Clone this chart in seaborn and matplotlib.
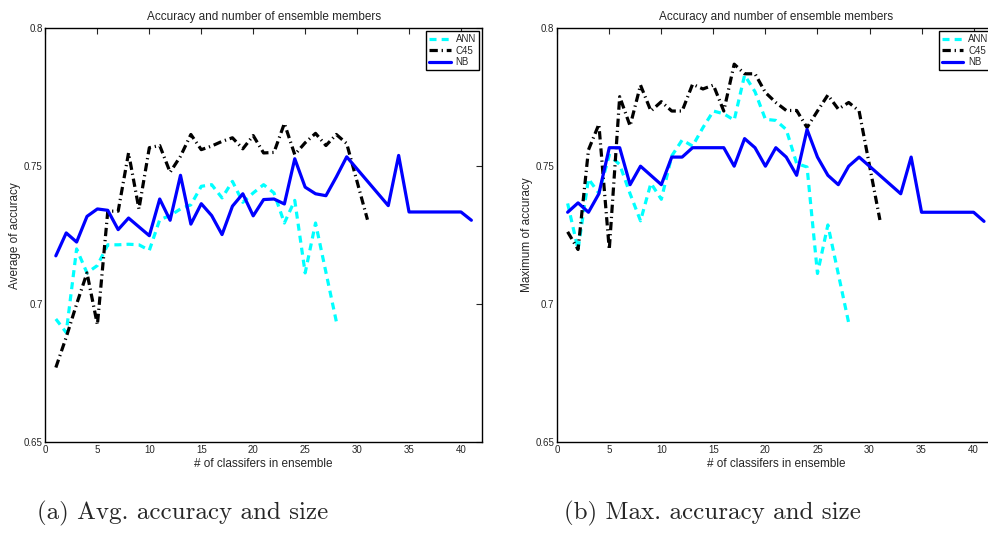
import matplotlib
matplotlib.use('Agg')
import matplotlib.pyplot as plt
import seaborn as sns

# ---- data ----
X_TICKS = [0, 5, 10, 15, 20, 25, 30, 35, 40]
Y_TICKS = [0.65, 0.7, 0.75, 0.8]
Y_TICK_LABELS = ['0.65', '0.7', '0.75', '0.8']

# (a) average accuracy
ann_avg_x = list(range(1, 27)) + [28]
ann_avg_y = [0.6946, 0.6897, 0.7200, 0.7113, 0.7140, 0.7215, 0.7215, 0.7217, 0.7215, 0.7195,
             0.7306, 0.7321, 0.7345, 0.7360, 0.7427, 0.7433, 0.7385, 0.7445, 0.7369, 0.7403,
             0.7433, 0.7403, 0.7294, 0.7376, 0.7113, 0.7294, 0.6937]
c45_avg_x = list(range(1, 30)) + [31]
c45_avg_y = [0.6770, 0.6880, 0.7000, 0.7113, 0.6925, 0.7337, 0.7337, 0.7548, 0.7345, 0.7567,
             0.7575, 0.7478, 0.7536, 0.7615, 0.7560, 0.7573, 0.7590, 0.7603, 0.7563, 0.7611,
             0.7548, 0.7550, 0.7655, 0.7542, 0.7585, 0.7619, 0.7575, 0.7615, 0.7582, 0.7306]
nb_avg_x = [1, 2, 3, 4, 5, 6, 7, 8] + list(range(10, 30)) + [33, 34, 35, 40, 41]
nb_avg_y = [0.7175, 0.7258, 0.7225, 0.7318, 0.7345, 0.7340, 0.7270, 0.7312,
            0.7248, 0.7381, 0.7304, 0.7467, 0.7290, 0.7364, 0.7321, 0.7252, 0.7355, 0.7400,
            0.7320, 0.7379, 0.7381, 0.7363, 0.7527, 0.7424, 0.7400, 0.7393, 0.7461, 0.7534,
            0.7357, 0.7539, 0.7334, 0.7334, 0.7304]

# (b) maximum accuracy
ann_max_x = list(range(1, 27)) + [28]
ann_max_y = [0.7365, 0.7198, 0.7454, 0.7402, 0.7540, 0.7506, 0.7400, 0.7302, 0.7438, 0.7380,
             0.7537, 0.7595, 0.7573, 0.7640, 0.7700, 0.7690, 0.7667, 0.7830, 0.7770, 0.7670,
             0.7666, 0.7633, 0.7510, 0.7497, 0.7111, 0.7287, 0.6932]
c45_max_x = list(range(1, 30)) + [31]
c45_max_y = [0.7262, 0.7198, 0.7559, 0.7652, 0.7198, 0.7752, 0.7646, 0.7794, 0.7700, 0.7734,
             0.7700, 0.7700, 0.7797, 0.7780, 0.7794, 0.7700, 0.7870, 0.7835, 0.7835, 0.7767,
             0.7731, 0.7702, 0.7702, 0.7640, 0.7700, 0.7758, 0.7707, 0.7731, 0.7700, 0.7305]
nb_max_x = [1, 2, 3, 4, 5, 6, 7, 8] + list(range(10, 30)) + [33, 34, 35, 40, 41]
nb_max_y = [0.7333, 0.7367, 0.7333, 0.7400, 0.7567, 0.7567, 0.7433, 0.7500,
            0.7433, 0.7533, 0.7533, 0.7567, 0.7567, 0.7567, 0.7567, 0.7500, 0.7600, 0.7567,
            0.7500, 0.7567, 0.7533, 0.7467, 0.7633, 0.7533, 0.7467, 0.7433, 0.7500, 0.7533,
            0.7400, 0.7533, 0.7333, 0.7333, 0.7300]

TITLE = 'Accuracy and number of ensemble members'
XLABEL = '# of classifers in ensemble'

sns.set_style('white')
plt.rcParams['font.family'] = ['Liberation Sans Narrow', 'Liberation Sans', 'DejaVu Sans']


def draw_panel(ax, ann, c45, nb, ylabel):
    sns.lineplot(x=ann[0], y=ann[1], ax=ax, color='cyan', linewidth=2.3,
                 linestyle=(0, (2.2, 1.6)), label='ANN')
    sns.lineplot(x=c45[0], y=c45[1], ax=ax, color='black', linewidth=2.3,
                 linestyle=(0, (2.6, 1.2, 0.4, 1.2)), label='C45')
    sns.lineplot(x=nb[0], y=nb[1], ax=ax, color='blue', linewidth=2.3,
                 linestyle='-', label='NB')

    ax.set_xlim(0, 42)
    ax.set_ylim(0.65, 0.8)
    ax.set_xticks(X_TICKS)
    ax.set_yticks(Y_TICKS)
    ax.set_yticklabels(Y_TICK_LABELS)
    ax.tick_params(direction='in', length=4, width=0.8, labelsize=7,
                   top=True, right=True, pad=2)
    for s in ax.spines.values():
        s.set_color('black')
        s.set_linewidth(1.0)
        s.set_visible(True)
    ax.set_title(TITLE, fontsize=8.5, pad=6)
    ax.set_xlabel(XLABEL, fontsize=8.5, labelpad=2)
    ax.set_ylabel(ylabel, fontsize=8.5, labelpad=2)
    leg = ax.legend(loc='upper right', fontsize=7, frameon=True, fancybox=False,
                    framealpha=1, edgecolor='black', handlelength=2.2,
                    borderpad=0.3, labelspacing=0.15, handletextpad=0.5,
                    borderaxespad=0.3)
    leg.get_frame().set_linewidth(1.0)


fig = plt.figure(figsize=(9.88, 5.44), dpi=100)
ax1 = fig.add_axes([0.046, 0.1875, 0.4416, 0.7605])
ax2 = fig.add_axes([0.564, 0.1875, 0.4425, 0.7605])

draw_panel(ax1, (ann_avg_x, ann_avg_y), (c45_avg_x, c45_avg_y), (nb_avg_x, nb_avg_y),
           'Average of accuracy')
draw_panel(ax2, (ann_max_x, ann_max_y), (c45_max_x, c45_max_y), (nb_max_x, nb_max_y),
           'Maximum of accuracy')

fig.text(0.185, 0.057, '(a) Avg. accuracy and size', family='cmr10', fontsize=18,
         ha='center', va='center')
fig.text(0.721, 0.057, '(b) Max. accuracy and size', family='cmr10', fontsize=18,
         ha='center', va='center')

fig.savefig('out.png', dpi=100)
